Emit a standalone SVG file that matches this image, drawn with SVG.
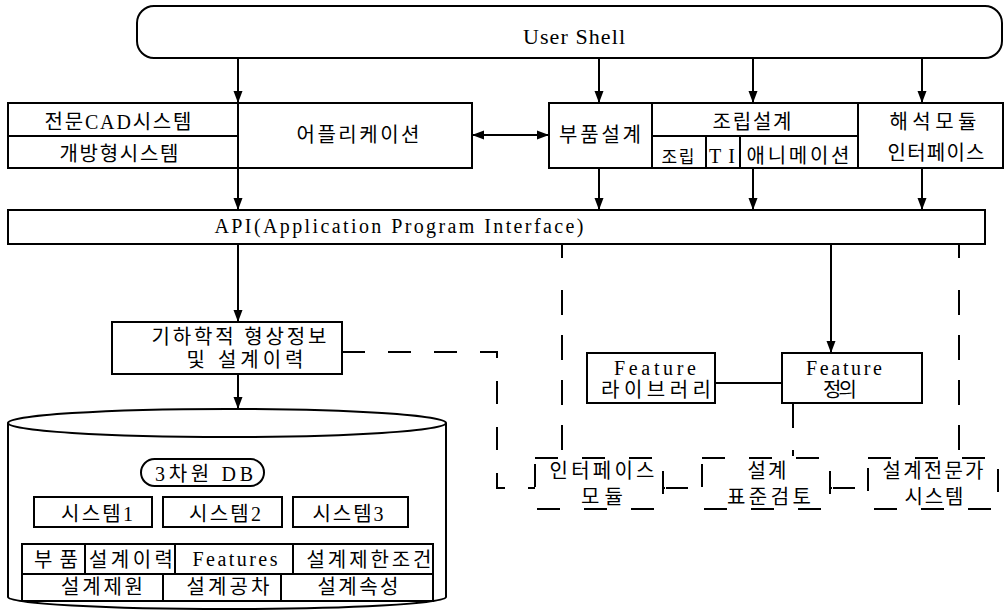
<svg xmlns="http://www.w3.org/2000/svg" width="1004" height="611" viewBox="0 0 1004 611">
<style>
.b{fill:#fff;stroke:#000;stroke-width:2}
.l{fill:none;stroke:#000;stroke-width:2}
.d{fill:none;stroke:#000;stroke-width:2;stroke-dasharray:23 23}
.db{fill:#fff;stroke:#000;stroke-width:2;stroke-dasharray:23 24}
.a{fill:none;stroke:#000;stroke-width:2;marker-end:url(#ah)}
text{font-family:"Liberation Serif","Noto Sans CJK KR",serif;font-size:20px;fill:#000;text-anchor:middle}
.e{font-size:20px}
</style>
<defs>
<marker id="ah" markerUnits="userSpaceOnUse" markerWidth="12" markerHeight="10" refX="12" refY="5" orient="auto-start-reverse">
<path d="M0,0.5 L12,5 L0,9.5 z" fill="#000"/>
</marker>
</defs>
<rect width="1004" height="611" fill="#fff"/>

<g id="user-shell">
<rect class="b" x="137" y="6" width="865" height="52" rx="17"/>
<text x="574" y="44" style="font-size:22px" textLength="102" lengthAdjust="spacing">User Shell</text>
</g>

<g id="left-box">
<rect class="b" x="8" y="103" width="464" height="65"/>
<line class="l" x1="238" y1="103" x2="238" y2="168"/>
<line class="l" x1="8" y1="136" x2="238" y2="136"/>
<text x="118" y="129" textLength="147" lengthAdjust="spacing">전문CAD시스템</text>
<text x="119" y="161" textLength="119" lengthAdjust="spacing">개방형시스템</text>
<text x="358" y="142" textLength="123" lengthAdjust="spacing">어플리케이션</text>
</g>

<g id="right-box">
<rect class="b" x="549" y="103" width="454" height="65"/>
<line class="l" x1="652" y1="103" x2="652" y2="168"/>
<line class="l" x1="858" y1="103" x2="858" y2="168"/>
<line class="l" x1="652" y1="136" x2="858" y2="136"/>
<line class="l" x1="706" y1="136" x2="706" y2="168"/>
<line class="l" x1="740" y1="136" x2="740" y2="168"/>
<text x="600" y="142" textLength="82" lengthAdjust="spacing">부품설계</text>
<text x="752" y="129" textLength="79" lengthAdjust="spacing">조립설계</text>
<text x="678" y="163" style="font-size:17px" textLength="33" lengthAdjust="spacing">조립</text>
<text x="722" y="163" class="e" textLength="26" lengthAdjust="spacing">TI</text>
<text x="798" y="163" textLength="103" lengthAdjust="spacing">애니메이션</text>
<text x="933" y="129" textLength="87" lengthAdjust="spacing">해석모듈</text>
<text x="936" y="160" textLength="97" lengthAdjust="spacing">인터페이스</text>
</g>

<g id="api">
<rect class="b" x="8" y="210" width="977" height="34"/>
<text x="399" y="233" class="e" textLength="369" lengthAdjust="spacing">API(Application Program Interface)</text>
</g>

<g id="geometry">
<rect class="b" x="112" y="322" width="230" height="52"/>
<text x="239" y="344" textLength="175" lengthAdjust="spacing">기하학적 형상정보</text>
<text x="245" y="367" textLength="117" lengthAdjust="spacing">및 설계이력</text>
</g>

<g id="feature-library">
<rect class="b" x="587" y="353" width="128" height="50"/>
<text x="655" y="375" class="e" textLength="82" lengthAdjust="spacing">Feature</text>
<text x="656" y="397" textLength="110" lengthAdjust="spacing">라이브러리</text>
</g>

<g id="feature-definition">
<rect class="b" x="782" y="353" width="140" height="50"/>
<text x="844" y="375" class="e" textLength="76" lengthAdjust="spacing">Feature</text>
<text x="840" y="397" textLength="34" lengthAdjust="spacing">정의</text>
</g>

<g id="db">
<path class="b" d="M8,423 L8,597 A219,12 0 0 0 446,597 L446,423"/>
<ellipse class="b" cx="227" cy="423" rx="219" ry="14"/>
<rect class="b" x="141" y="459" width="123" height="27" rx="13.5"/>
<text x="204" y="481" textLength="98" lengthAdjust="spacing">3차원 DB</text>
<rect class="b" x="34" y="497" width="118" height="30"/>
<rect class="b" x="163" y="497" width="119" height="30"/>
<rect class="b" x="293" y="497" width="115" height="30"/>
<text x="97" y="521" textLength="72" lengthAdjust="spacing">시스템1</text>
<text x="225" y="521" textLength="72" lengthAdjust="spacing">시스템2</text>
<text x="348" y="521" textLength="71" lengthAdjust="spacing">시스템3</text>
<rect class="b" x="22" y="544" width="411" height="57"/>
<line class="l" x1="22" y1="574" x2="433" y2="574"/>
<line class="l" x1="85" y1="544" x2="85" y2="574"/>
<line class="l" x1="175" y1="544" x2="175" y2="574"/>
<line class="l" x1="293" y1="544" x2="293" y2="574"/>
<line class="l" x1="163" y1="574" x2="163" y2="601"/>
<line class="l" x1="281" y1="574" x2="281" y2="601"/>
<text x="56" y="567" textLength="44" lengthAdjust="spacing">부품</text>
<text x="131" y="567" textLength="84" lengthAdjust="spacing">설계이력</text>
<text x="235" y="566" textLength="85" lengthAdjust="spacing">Features</text>
<text x="369" y="567" textLength="125" lengthAdjust="spacing">설계제한조건</text>
<text x="102" y="594" textLength="82" lengthAdjust="spacing">설계제원</text>
<text x="228" y="594" textLength="83" lengthAdjust="spacing">설계공차</text>
<text x="358" y="594" textLength="81" lengthAdjust="spacing">설계속성</text>
</g>

<g id="interface-module">
<rect class="db" x="535" y="458" width="128" height="51"/>
<text x="602" y="478" textLength="105" lengthAdjust="spacing">인터페이스</text>
<text x="602" y="504" textLength="42" lengthAdjust="spacing">모듈</text>
</g>

<g id="design-review">
<rect class="db" x="702" y="458" width="128" height="51"/>
<text x="767" y="478" textLength="39" lengthAdjust="spacing">설계</text>
<text x="769" y="504" textLength="84" lengthAdjust="spacing">표준검토</text>
</g>

<g id="expert-system">
<rect class="db" x="868" y="458" width="130" height="51"/>
<text x="933" y="478" textLength="101" lengthAdjust="spacing">설계전문가</text>
<text x="934" y="504" textLength="59" lengthAdjust="spacing">시스템</text>
</g>

<g id="connectors">
<line class="a" x1="238" y1="58" x2="238" y2="103"/>
<line class="a" x1="599" y1="58" x2="599" y2="103"/>
<line class="a" x1="753" y1="58" x2="753" y2="103"/>
<line class="a" x1="922" y1="58" x2="922" y2="103"/>
<line class="a" x1="238" y1="168" x2="238" y2="210"/>
<line class="a" x1="599" y1="168" x2="599" y2="210"/>
<line class="a" x1="753" y1="168" x2="753" y2="210"/>
<line class="a" x1="922" y1="168" x2="922" y2="210"/>
<line class="a" x1="472" y1="135" x2="549" y2="135" style="marker-start:url(#ah)"/>
<line class="a" x1="238" y1="244" x2="238" y2="322"/>
<line class="a" x1="238" y1="374" x2="238" y2="409"/>
<line class="a" x1="831" y1="244" x2="831" y2="353"/>
<line class="l" x1="715" y1="383" x2="782" y2="383"/>
<path class="d" d="M342,352 L497,352 L497,488 L535,488"/>
<line class="d" x1="562" y1="244" x2="562" y2="458" style="stroke-dasharray:14 32 25 20 25 20 25 20 25 20"/>
<line class="d" x1="959" y1="244" x2="959" y2="458" style="stroke-dasharray:14 32 25 20 25 20 25 20 25 20"/>
<line class="d" x1="793" y1="403" x2="793" y2="458" style="stroke-dasharray:25 22 6 10"/>
<line class="d" x1="663" y1="488" x2="702" y2="488" style="stroke-dasharray:2 1 22 20"/>
<line class="d" x1="830" y1="488" x2="868" y2="488" style="stroke-dasharray:2 1 22 20"/>
</g>
</svg>
